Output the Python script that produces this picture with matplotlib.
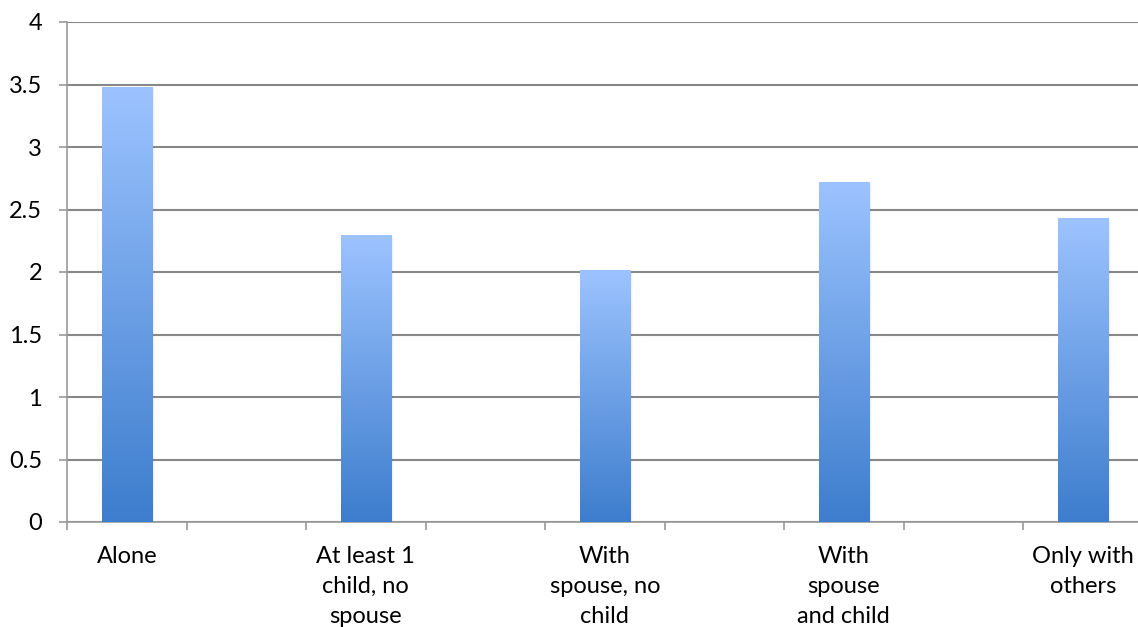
import numpy as np
import matplotlib
matplotlib.use('Agg')
import matplotlib.pyplot as plt
from matplotlib.colors import LinearSegmentedColormap

# Data
categories = ['Alone', 'At least 1\nchild, no\nspouse', 'With\nspouse, no\nchild',
              'With\nspouse\nand child', 'Only with\nothers']
values = [3.48, 2.29, 2.01, 2.72, 2.43]
y_ticks = [0, 0.5, 1, 1.5, 2, 2.5, 3, 3.5, 4]
y_labels = ['0', '0.5', '1', '1.5', '2', '2.5', '3', '3.5', '4']

plt.rcParams['font.family'] = ['Lato', 'DejaVu Sans']

fig = plt.figure(figsize=(11.38, 6.27), dpi=100)
W, H = 1138, 627
# axis spans 9 slots of ~119.5 px; the last one is cut off by the image edge
ax = fig.add_axes([67 / W, (H - 522) / H, 9 * 119.5 / W, 500 / H])

# bars sit in every other slot
pos = np.arange(len(categories)) * 2 + 0.5
bars = ax.bar(pos, values, width=0.42, color='none', zorder=3)

cmap = LinearSegmentedColormap.from_list('bar', ['#3d7dcd', '#9cc3ff'])
grad = np.linspace(0, 1, 256).reshape(-1, 1)
for b in bars:
    x0, w, h = b.get_x(), b.get_width(), b.get_height()
    # soft shadow
    for i, a in enumerate([0.07, 0.04, 0.02]):
        ax.bar(x0 + w / 2 + 0.01 * (i + 1), h - 0.005 * (i + 1), width=w,
               color='#000000', alpha=a, zorder=2, linewidth=0)
    ax.imshow(grad, extent=[x0, x0 + w, 0, h], origin='lower', cmap=cmap,
              aspect='auto', zorder=4, interpolation='bilinear')

ax.set_xlim(0, 9)
ax.set_ylim(0, 4)

ax.set_yticks(y_ticks)
ax.set_yticklabels(y_labels)
ax.set_xticks(np.arange(0, 10))
ax.set_xticklabels([])
for p, lab in zip(pos, categories):
    ax.text(p, -0.19, lab, ha='center', va='top', fontsize=17, linespacing=1.55,
            transform=ax.transData, clip_on=False)

ax.yaxis.grid(True, color='#888888', linewidth=1.5, zorder=1)
ax.set_axisbelow(True)
for s in ['top', 'right']:
    ax.spines[s].set_visible(False)
ax.spines['left'].set_color('#999999')
ax.spines['bottom'].set_color('#999999')
ax.spines['left'].set_linewidth(1.2)
ax.spines['bottom'].set_linewidth(1.2)
ax.tick_params(axis='y', length=6, width=1.2, color='#999999', pad=12, labelsize=17)
ax.tick_params(axis='x', length=6, width=1.2, color='#999999')

fig.savefig('out.png', dpi=100)
